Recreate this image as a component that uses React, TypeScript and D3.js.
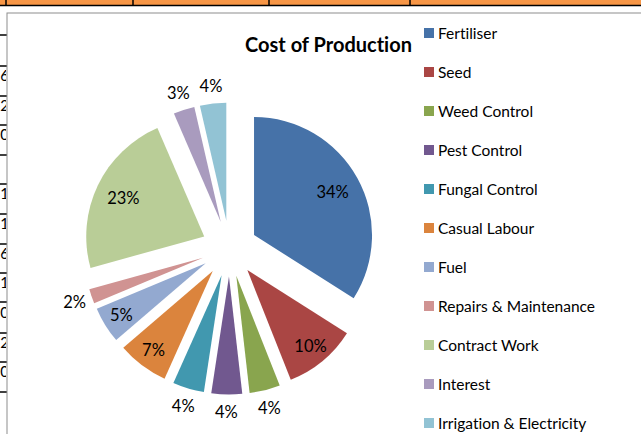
import React from "react";
import * as d3 from "d3";

const categories = [
  "Fertiliser",
  "Seed",
  "Weed Control",
  "Pest Control",
  "Fungal Control",
  "Casual Labour",
  "Fuel",
  "Repairs & Maintenance",
  "Contract Work",
  "Interest",
  "Irrigation & Electricity",
];
const values = [34, 10, 4.2, 4.2, 4.3, 7, 5, 2, 22.8, 2.9, 3.6];
const colors = [
  "#4672A8",
  "#AA4644",
  "#89A54E",
  "#71588F",
  "#4198AF",
  "#DB843D",
  "#93A9D0",
  "#D09392",
  "#B9CD97",
  "#A99BBE",
  "#92C3D4",
];
const title = "Cost of Production";
const leftRowLines = [35, 66, 96, 125, 155, 184, 214, 244, 273, 302, 333, 362, 392];
const topCellLines = [6, 133, 269, 410];
const leftFragments = [
  { y: 81, t: "6" },
  { y: 111, t: "2" },
  { y: 140, t: "0" },
  { y: 199, t: "1" },
  { y: 229, t: "1" },
  { y: 259, t: "6" },
  { y: 288, t: "1" },
  { y: 318, t: "0" },
  { y: 348, t: "2" },
  { y: 377, t: "0" },
];

const W = 641;
const H = 434;
const cx = 229.5;
const cy = 248.5;
const R = 118;
const explode = 28;
const FONT = "Lato, 'Open Sans', sans-serif";

export default function App() {
  const total = d3.sum(values);
  const pie = d3
    .pie<number>()
    .sort(null)
    .value((d) => d)
    .startAngle(0)
    .endAngle(2 * Math.PI);
  const arcs = pie(values);
  const arc = d3.arc<d3.PieArcDatum<number>>().innerRadius(0).outerRadius(R);

  const legendY = d3
    .scalePoint<string>()
    .domain(categories)
    .range([33, 423]);

  return (
    <svg
      width={W}
      height={H}
      style={{
        position: "absolute",
        left: 0,
        top: 0,
        background: "#fff",
        fontVariantLigatures: "none",
      }}
      fontFamily={FONT}
    >
      {/* spreadsheet background */}
      <rect x={0} y={0} width={W} height={5} fill="#F79646" />
      <line x1={0} x2={W} y1={5.5} y2={5.5} stroke="#000" strokeWidth={1.5} />
      {topCellLines.map((x, i) => (
        <line key={i} x1={x} x2={x} y1={0} y2={6} stroke="#000" strokeWidth={1.5} />
      ))}
      {leftRowLines.map((y, i) => (
        <line key={i} x1={0} x2={7} y1={y} y2={y} stroke="#000" strokeWidth={1.5} />
      ))}
      <clipPath id="leftclip">
        <rect x={0} y={0} width={6} height={H} />
      </clipPath>
      <g clipPath="url(#leftclip)">
        {leftFragments.map((f, i) => (
          <text key={i} x={9} y={f.y} fontSize={15} textAnchor="end" fill="#000">
            {f.t}
          </text>
        ))}
      </g>
      {/* chart area border */}
      <rect x={7} y={13} width={W} height={H} fill="#fff" stroke="#8E8E8E" strokeWidth={1} />

      {/* title */}
      <text
        x={328.5}
        y={52}
        textAnchor="middle"
        fontSize={20}
        fontWeight={700}
        fill="#000"
      >
        {title}
      </text>

      {/* pie */}
      <g transform={`translate(${cx},${cy})`}>
        {arcs.map((a, i) => {
          const mid = (a.startAngle + a.endAngle) / 2;
          const dx = Math.sin(mid) * explode;
          const dy = -Math.cos(mid) * explode;
          const pct = a.value / total;
          const inside = pct >= 0.05;
          const lr = inside ? (pct >= 0.2 ? R * 0.76 : R * 0.84) : R + 18;
          const lx = dx + Math.sin(mid) * lr;
          const ly = dy - Math.cos(mid) * lr;
          return (
            <g key={categories[i]}>
              <path
                d={arc(a) || ""}
                transform={`translate(${dx},${dy})`}
                fill={colors[i]}
              />
              <text
                x={lx}
                y={ly}
                textAnchor="middle"
                dominantBaseline="central"
                fontSize={16.5}
                fill="#000"
              >
                {`${Math.round(pct * 100)}%`}
              </text>
            </g>
          );
        })}
      </g>

      {/* legend */}
      {categories.map((c, i) => {
        const y = legendY(c) || 0;
        return (
          <g key={c}>
            <rect x={424} y={y - 5} width={10} height={10} fill={colors[i]} />
            <text
              x={438}
              y={y}
              dominantBaseline="central"
              fontSize={15.5}
              fill="#000"
            >
              {c}
            </text>
          </g>
        );
      })}
    </svg>
  );
}
